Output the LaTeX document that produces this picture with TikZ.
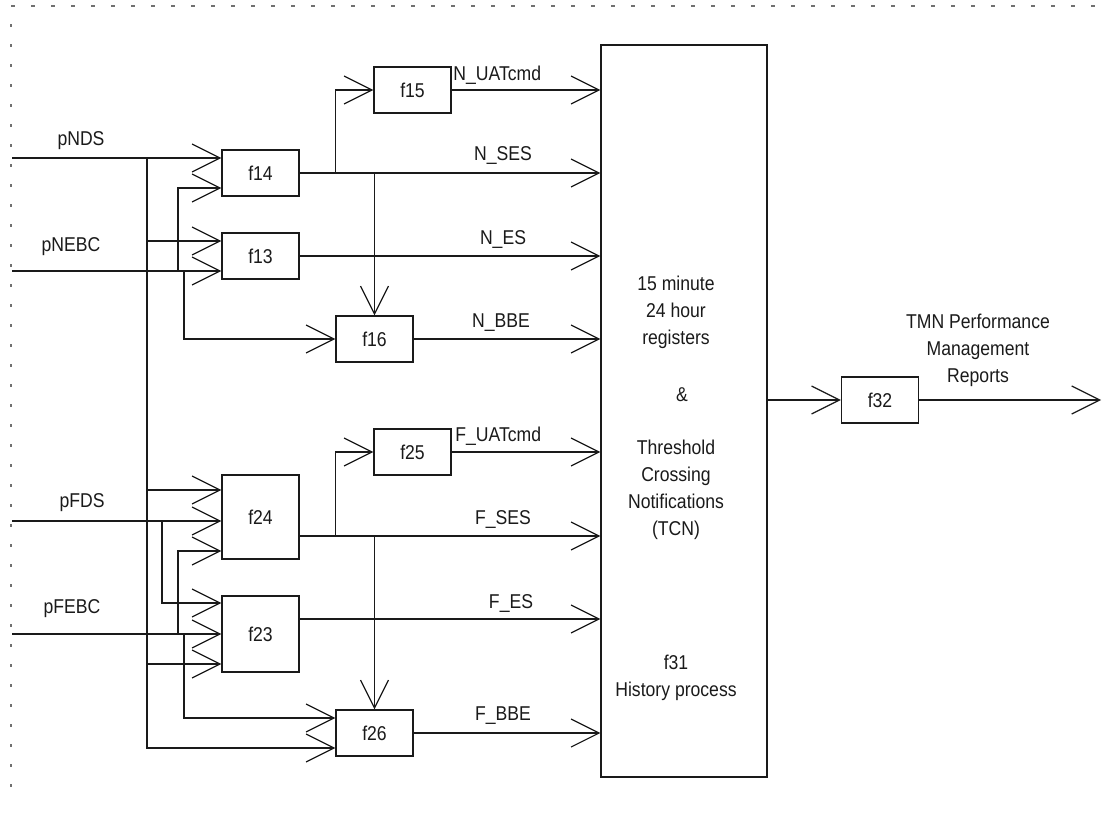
\documentclass[tikz,border=0pt]{standalone}
\usepackage{fontspec}
\setmainfont{Liberation Sans}[FakeStretch=0.88]
\usepackage{tikz}
\usetikzlibrary{arrows.meta,calc}
\definecolor{PMLine}{HTML}{1A1A1A}
\definecolor{PMFrame}{HTML}{707070}

\begin{document}
\begin{tikzpicture}[
    x=0.5pt,y=-0.5pt,
    every node/.style={font=\fontsize{10}{13.5}\selectfont, text=PMLine},
    fbox/.style={draw=PMLine, line width=0.6pt, minimum width=38.5pt, minimum height=23pt, inner sep=0pt},
    tallbox/.style={fbox, minimum height=42pt},
    flow/.style={draw=PMLine, line width=0.6pt, -{Straight Barb[length=14pt,width=14pt]}},
    lbl/.style={inner sep=0pt, align=center},
    pageframe/.style={draw=PMFrame, line width=0.6pt}
  ]
    \useasboundingbox (0,0) rectangle (1102,814);

    % dashed page frame
    \coordinate (c0) at (11,6);
    \coordinate (c1) at (1102,6);
    \coordinate (c2) at (11,800);
    \draw[pageframe, dash pattern=on 2pt off 8pt] (c0) -- (c1);
    \draw[pageframe, dash pattern=on 1.5pt off 8.5pt] ([yshift=-9pt]c0) -- (c2);

    % function boxes
    \node[fbox] (f15) at (412.5,90) {f15};
    \node[fbox] (f14) at (260.5,173) {f14};
    \node[fbox] (f13) at (260.5,256) {f13};
    \node[fbox] (f16) at (374.5,339) {f16};
    \node[fbox] (f25) at (412.5,452) {f25};
    \node[tallbox] (f24) at (260.5,517) {f24};
    \node[fbox, minimum height=38pt] (f23) at (260.5,634) {f23};
    \node[fbox] (f26) at (374.5,733) {f26};
    \node[fbox, minimum width=83pt, minimum height=366pt] (f31) at (684,411) {};
    \node[fbox] (f32) at (880,400) {f32};

    % inputs and bus lines
    \coordinate (inNDS) at (12,158);
    \coordinate (inNEBC) at (12,271);
    \coordinate (inFDS) at (12,521);
    \coordinate (inFEBC) at (12,634);
    \coordinate (out) at (1101,400);
    \coordinate (b1) at (147,0);
    \coordinate (b2) at (162,0);
    \coordinate (b3) at (178,0);
    \coordinate (b4) at (184,0);

    % ports
    \coordinate (p14a) at ($(f14.west)+(0,-15)$);
    \coordinate (p14b) at ($(f14.west)+(0,15)$);
    \coordinate (p13a) at ($(f13.west)+(0,-15)$);
    \coordinate (p13b) at ($(f13.west)+(0,15)$);
    \coordinate (p24a) at ($(f24.west)+(0,-27)$);
    \coordinate (p24b) at ($(f24.west)+(0,4)$);
    \coordinate (p24c) at ($(f24.west)+(0,34)$);
    \coordinate (p23a) at ($(f23.west)+(0,-31)$);
    \coordinate (p23b) at (f23.west);
    \coordinate (p23c) at ($(f23.west)+(0,30)$);
    \coordinate (p26a) at ($(f26.west)+(0,-15)$);
    \coordinate (p26b) at ($(f26.west)+(0,15)$);
    \coordinate (p24o) at ($(f24.east)+(0,19)$);
    \coordinate (p23o) at ($(f23.east)+(0,-15)$);

    \draw[flow] (inNDS) -- (p14a);
    \draw[flow] (inNEBC) -- (p13b);
    \draw[flow] (inFDS) -- (p24b);
    \draw[flow] (inFEBC) -- (p23b);
    \draw[flow] (b1 |- inNDS) |- (p26b);
    \foreach \p in {p13a,p24a,p23c}{\draw[flow] (b1 |- \p) -- (\p);}
    \draw[flow] (b3 |- inNEBC) |- (p14b);
    \draw[flow] (b4 |- inNEBC) |- (f16.west);
    \draw[flow] (b2 |- inFDS) |- (p23a);
    \draw[flow] (b3 |- inFEBC) |- (p24c);
    \draw[flow] (b4 |- inFEBC) |- (p26a);

    % outputs to the history process
    \draw[flow] (f14.east) -- (f31.west |- f14.east);
    \draw[flow] (f16.west |- f14.east) |- (f15.west);
    \draw[flow] (f16.north |- f14.east) -- (f16.north);
    \draw[flow] (f24.east |- p24o) -- (f31.west |- p24o);
    \draw[flow] (f26.west |- p24o) |- (f25.west);
    \draw[flow] (f26.north |- p24o) -- (f26.north);
    \foreach \n in {f15,f13,f16,f25,f26}{\draw[flow] (\n.east) -- (f31.west |- \n.east);}
    \draw[flow] (f23.east |- p23o) -- (f31.west |- p23o);
    \draw[flow] (f31.east |- f32.west) -- (f32.west);
    \draw[flow] (f32.east) -- (out);

    % labels
    \node[lbl] (lNDS) at (81,141) {pNDS};
    \node[lbl] (lNEBC) at (71,247) {pNEBC};
    \node[lbl] (lFDS) at (82,503) {pFDS};
    \node[lbl] (lFEBC) at (72,609) {pFEBC};
    \node[lbl, anchor=west] (lNUAT) at (453,75) {N\_UATcmd};
    \node[lbl] (lNSES) at (503,155) {N\_SES};
    \node[lbl] (lNES) at (503,240) {N\_ES};
    \node[lbl] (lNBBE) at (501,323) {N\_BBE};
    \node[lbl, anchor=west] (lFUAT) at (455,436) {F\_UATcmd};
    \node[lbl] (lFSES) at (503,519) {F\_SES};
    \node[lbl] (lFES) at (511,603) {F\_ES};
    \node[lbl] (lFBBE) at (503,716) {F\_BBE};

    \node[lbl] (tReg) at (676,312) {15 minute\\24 hour\\registers};
    \node[lbl] (tAnd) at (682,395) {\&};
    \node[lbl] (tTCN) at (676,490) {Threshold\\Crossing\\Notifications\\(TCN)};
    \node[lbl] (tHist) at (676,678) {f31\\History process};
    \node[lbl] (tTMN) at (978,350) {TMN Performance\\Management\\Reports};
  \end{tikzpicture}
\end{document}
